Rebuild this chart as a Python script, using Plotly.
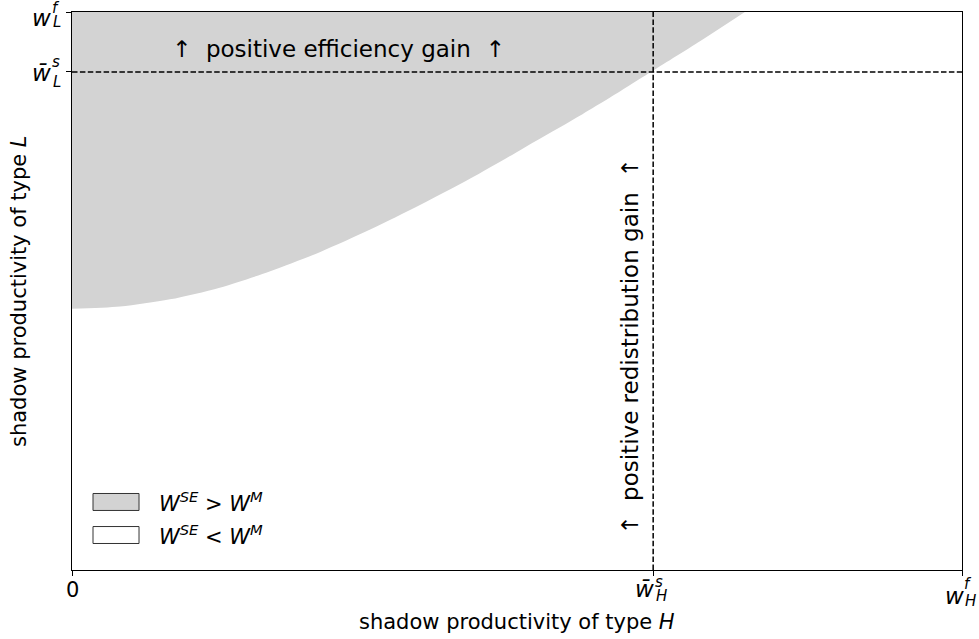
import plotly.graph_objects as go

# ---- data (normalised units: 0 .. w^f on each axis) ----
boundary_x = [0.000, 0.054, 0.110, 0.166, 0.222, 0.279, 0.335, 0.391, 0.447,
              0.503, 0.560, 0.616, 0.653, 0.706, 0.756]
boundary_y = [0.468, 0.472, 0.485, 0.506, 0.535, 0.570, 0.610, 0.654, 0.701,
              0.752, 0.804, 0.858, 0.895, 0.948, 1.000]
wH_bar_s = 0.653   # \bar w_H^s
wH_f = 1.0         # w_H^f
wL_bar_s = 0.8925  # \bar w_L^s
wL_f = 1.0         # w_L^f
y_min = 0.0

x_ticks = [0.0, wH_bar_s, wH_f]
y_ticks = [wL_bar_s, wL_f]

FONT = "DejaVu Sans"
GRAY = "#d3d3d3"

fig = go.Figure()

# top edge of shaded region (invisible), then boundary filled up to it
fig.add_trace(go.Scatter(x=boundary_x, y=[wL_f] * len(boundary_x), mode="lines",
                         line=dict(width=0, color=GRAY), hoverinfo="skip",
                         showlegend=False))
fig.add_trace(go.Scatter(x=boundary_x, y=boundary_y, mode="lines",
                         line=dict(width=0, color=GRAY, shape="spline", smoothing=0.8),
                         fill="tonexty", fillcolor=GRAY, hoverinfo="skip", showlegend=False))

dash = "5.5px,2.4px"
fig.add_shape(type="line", xref="x", yref="y", x0=0, x1=wH_f, y0=wL_bar_s, y1=wL_bar_s,
              line=dict(color="black", width=1.5, dash=dash))
fig.add_shape(type="line", xref="x", yref="y", x0=wH_bar_s, x1=wH_bar_s, y0=y_min, y1=wL_f,
              line=dict(color="black", width=1.5, dash=dash))

ann = []


def add(text, size, **kw):
    d = dict(text=text, showarrow=False, font=dict(family=FONT, size=size, color="black"))
    d.update(kw)
    ann.append(d)


BASE = 23
SMALL = 15

# ---- y tick labels ----
# w_L^f
add("<i>w</i>", BASE, xref="paper", x=0, yref="y", y=wL_f, xanchor="right", yanchor="middle",
    xshift=-19, yshift=-6)
add("<i>f</i>", SMALL, xref="paper", x=0, yref="y", y=wL_f, xanchor="left", yanchor="middle",
    xshift=-22, yshift=4)
add("<i>L</i>", SMALL, xref="paper", x=0, yref="y", y=wL_f, xanchor="left", yanchor="middle",
    xshift=-21, yshift=-10)
# \bar w_L^s
add("<i>w\u0304</i>", BASE, xref="paper", x=0, yref="y", y=wL_bar_s, xanchor="right",
    yanchor="middle", xshift=-19, yshift=-1)
add("<i>s</i>", SMALL, xref="paper", x=0, yref="y", y=wL_bar_s, xanchor="left",
    yanchor="middle", xshift=-22, yshift=10)
add("<i>L</i>", SMALL, xref="paper", x=0, yref="y", y=wL_bar_s, xanchor="left",
    yanchor="middle", xshift=-21, yshift=-10)

# ---- x tick labels ----
add("0", 21, xref="x", x=0, yref="paper", y=0, xanchor="center", yanchor="middle", yshift=-20)
# \bar w_H^s
add("<i>w\u0304</i>", BASE, xref="x", x=wH_bar_s, yref="paper", y=0, xanchor="right",
    yanchor="middle", xshift=3, yshift=-19)
add("<i>s</i>", SMALL, xref="x", x=wH_bar_s, yref="paper", y=0, xanchor="left",
    yanchor="middle", xshift=0, yshift=-12)
add("<i>H</i>", SMALL, xref="x", x=wH_bar_s, yref="paper", y=0, xanchor="left",
    yanchor="middle", xshift=1, yshift=-26)
# w_H^f
add("<i>w</i>", BASE, xref="x", x=wH_f, yref="paper", y=0, xanchor="right", yanchor="middle",
    xshift=4, yshift=-26)
add("<i>f</i>", SMALL, xref="x", x=wH_f, yref="paper", y=0, xanchor="left", yanchor="middle",
    xshift=0, yshift=-14)
add("<i>H</i>", SMALL, xref="x", x=wH_f, yref="paper", y=0, xanchor="left", yanchor="middle",
    xshift=1, yshift=-31)

# ---- axis titles ----
add("shadow productivity of type <i>H</i>", 21, xref="paper", x=0.5, yref="paper", y=0,
    xanchor="center", yanchor="middle", yshift=-52)
add("shadow productivity of type <i>L</i>", 21, xref="paper", x=0, yref="paper", y=0.5,
    xanchor="center", yanchor="middle", xshift=-53, textangle=-90)

# ---- in-plot texts ----
add("\u2191\u00a0\u00a0positive efficiency gain\u00a0\u00a0\u2191", 23, xref="x", x=0.299,
    yref="y", y=0.934, xanchor="center", yanchor="middle")
add("\u2191\u00a0\u00a0positive redistribution gain\u00a0\u00a0\u2191", 23, xref="x", x=0.627,
    yref="y", y=0.40, xanchor="center", yanchor="middle", textangle=-90)

# ---- legend (manual) ----
leg_x0, leg_x1 = 0.0236, 0.0753
for (yc, col, label) in [(0.1219, GRAY, "<i>W</i><sup><i>SE</i></sup> > <i>W</i><sup><i>M</i></sup>"),
                         (0.0627, "white", "<i>W</i><sup><i>SE</i></sup> < <i>W</i><sup><i>M</i></sup>")]:
    fig.add_shape(type="rect", xref="paper", yref="paper", x0=leg_x0, x1=leg_x1,
                  y0=yc - 0.0152, y1=yc + 0.0152, fillcolor=col,
                  line=dict(color="#333333", width=1))
    add(label, 21, xref="paper", x=0.0955, yref="paper", y=yc, xanchor="left",
        yanchor="middle")

fig.update_layout(
    width=979, height=639,
    margin=dict(l=72, r=17, t=12, b=69),
    paper_bgcolor="white", plot_bgcolor="white",
    showlegend=False,
    annotations=ann,
    xaxis=dict(range=[0, wH_f], tickvals=x_ticks, showticklabels=False, ticks="outside",
               ticklen=5, tickwidth=1, tickcolor="black", showgrid=False, zeroline=False,
               showline=True, linecolor="black", linewidth=1, mirror=True, fixedrange=True),
    yaxis=dict(range=[y_min, wL_f], tickvals=y_ticks, showticklabels=False, ticks="outside",
               ticklen=5, tickwidth=1, tickcolor="black", showgrid=False, zeroline=False,
               showline=True, linecolor="black", linewidth=1, mirror=True, fixedrange=True),
)

fig.write_html("out.html")
